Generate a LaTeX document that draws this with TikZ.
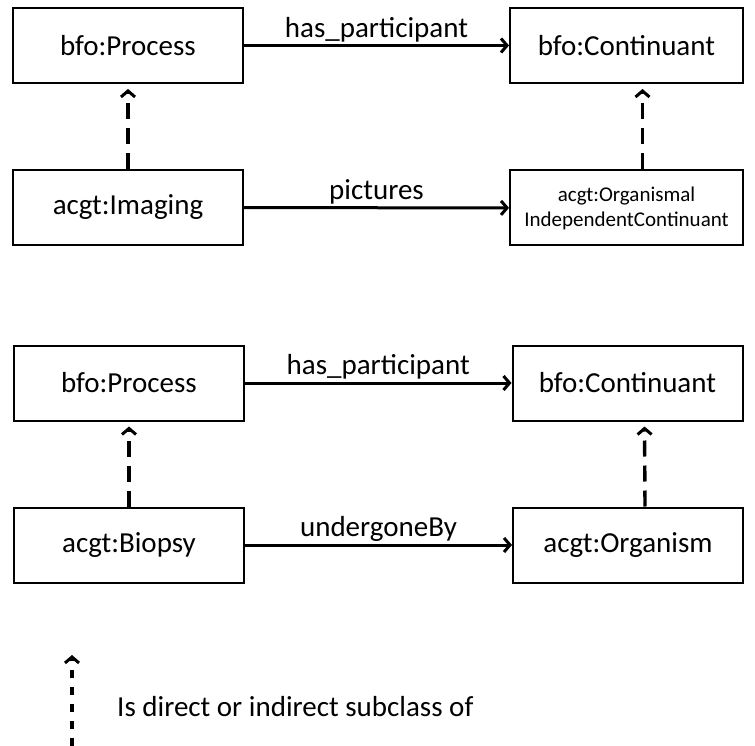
\documentclass[tikz,border=0pt]{standalone}
\usepackage{fontspec}
\setmainfont{Carlito}
\usetikzlibrary{arrows.meta}
\begin{document}
\begin{tikzpicture}[x=1pt, y=-1pt,
  cls/.style={draw, line width=2pt, minimum width=230pt, minimum height=75pt, inner sep=0pt, font=\fontsize{29}{35}\selectfont},
  rel/.style={line width=3pt, -{Straight Barb[length=6pt,width=14pt,line width=3pt]}},
  isa/.style={rel, line width=3.4pt, dash pattern=on 16pt off 9pt, shorten >=5pt},
  lbl/.style={above, inner sep=2pt, font=\fontsize{29}{35}\selectfont}]
\useasboundingbox (0,0) rectangle (755,746);
% upper pattern
\node[cls] (proc1) at (128,45.5) {bfo:Process};
\node[cls, minimum width=233pt] (cont1) at (626.5,45.5) {bfo:Continuant};
\node[cls] (img) at (128,207.5) {acgt:Imaging};
\node[cls, minimum width=233pt, align=center, font=\fontsize{21}{25}\selectfont] (org1) at (626.5,208) {acgt:Organismal\\IndependentContinuant};
\draw[rel] (proc1) -- node[lbl] {has\_participant} (cont1);
\draw[rel] (img) -- node[lbl] {pictures} (org1);
\draw[isa] (img.north) -- (proc1.south);
\draw[isa] ([xshift=16pt]org1.north) -- ([xshift=16pt]cont1.south);
% lower pattern
\node[cls] (proc2) at (129,383) {bfo:Process};
\node[cls] (cont2) at (627.5,383) {bfo:Continuant};
\node[cls] (bio) at (129,545) {acgt:Biopsy};
\node[cls] (org2) at (628,545) {acgt:Organism};
\draw[rel] (proc2) -- node[lbl] {has\_participant} (cont2);
\draw[rel] (bio) -- node[lbl] {undergoneBy} (org2);
\draw[isa] (bio.north) -- (proc2.south);
\draw[isa] ([xshift=17pt]org2.north) -- ([xshift=17pt]cont2.south);
% legend
\coordinate (leg0) at (72,746);
\coordinate (leg1) at (72,655);
\draw[isa, dash pattern=on 8pt off 9pt, shorten >=0pt] (leg0) -- (leg1);
\node[anchor=west, inner sep=0pt, font=\fontsize{29}{35}\selectfont] (legtxt) at (117,707) {Is direct or indirect subclass of};
\end{tikzpicture}
\end{document}
